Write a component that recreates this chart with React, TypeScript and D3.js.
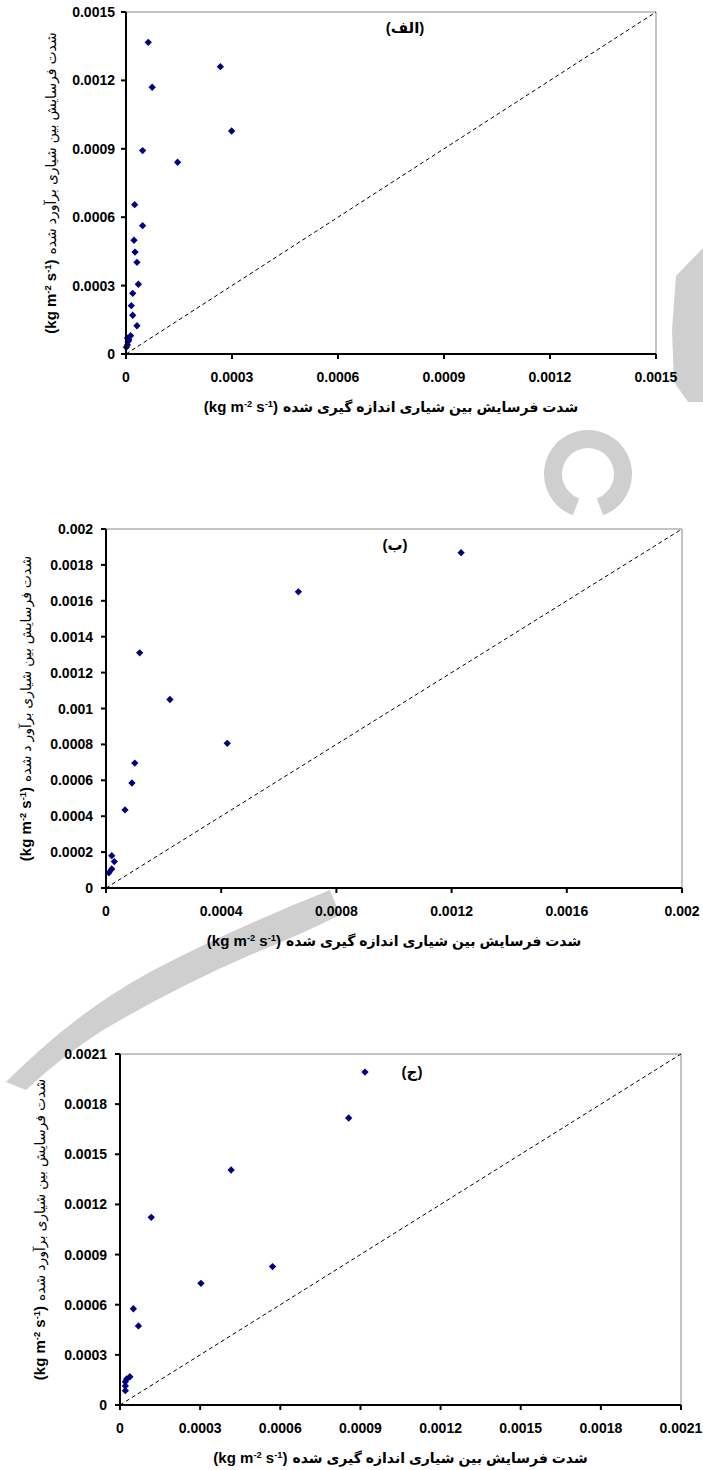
import React, { useLayoutEffect, useRef, useState } from "react";
import * as d3 from "d3";

// measured (x) vs estimated (y) interrill erosion rate, kg m-2 s-1
const measuredA = [0.000063, 0.000267, 0.000074, 0.000299, 0.000047, 0.000146, 0.0000245, 0.000047, 0.0000226, 0.0000255, 0.000031, 0.000035, 0.000019, 0.000015, 0.000019, 0.000031, 0.000013, 0.000004, 0.000008, 0.000006, 0.000004, 0.000001];
const estimatedA = [0.001367, 0.00126, 0.00117, 0.000978, 0.000892, 0.000841, 0.000655, 0.000563, 0.000499, 0.000447, 0.000402, 0.000306, 0.000266, 0.000212, 0.00017, 0.000124, 0.00008, 0.00007, 0.000062, 0.000055, 0.00004, 0.00003];

const measuredB = [0.001233, 0.000668, 0.000117, 0.000222, 0.000421, 0.0001, 0.00009, 0.000066, 0.00002, 0.000029, 0.00002, 0.00001];
const estimatedB = [0.001868, 0.00165, 0.00131, 0.00105, 0.000806, 0.000696, 0.000585, 0.000435, 0.00018, 0.000147, 0.000106, 0.000085];

const measuredC = [0.000917, 0.000856, 0.000416, 0.000117, 0.000571, 0.000303, 0.00005, 0.000069, 0.000037, 0.000025, 0.00002, 0.00002, 0.00002];
const estimatedC = [0.001992, 0.001717, 0.001406, 0.001123, 0.000828, 0.000728, 0.000576, 0.000473, 0.000169, 0.000156, 0.000139, 0.000114, 0.000086];

const ticksA = ["0", "0.0003", "0.0006", "0.0009", "0.0012", "0.0015"];
const xTicksB = ["0", "0.0004", "0.0008", "0.0012", "0.0016", "0.002"];
const yTicksB = ["0", "0.0002", "0.0004", "0.0006", "0.0008", "0.001", "0.0012", "0.0014", "0.0016", "0.0018", "0.002"];
const ticksC = ["0", "0.0003", "0.0006", "0.0009", "0.0012", "0.0015", "0.0018", "0.0021"];

const panelLabels = ["(الف)", "(ب)", "(ج)"];
const xTitle = "شدت فرسایش بین شیاری اندازه گیری شده";
const yTitles = ["شدت فرسایش بین شیاری برآورد شده", "شدت فرسایش بین شیاری برآور د شده", "شدت فرسایش بین شیاری برآورد شده"];

const FONT = "'Liberation Sans', Arial, 'DejaVu Sans', sans-serif";
const NAVY = "#000080";

type Box = { left: number; right: number; top: number; bottom: number };

type PanelProps = {
  xs: number[];
  ys: number[];
  xTicks: string[];
  yTicks: string[];
  box: Box;
  yLabelX: number;
  yTitleX: number;
  label: string;
  labelPos: [number, number];
  yTitle: string;
};

// "(kg m-2 s-1)" on the left, the Persian words on the right, measured so the pair is centred
function AxisTitle({ x, y, angle, persian, persianBold, size }: {
  x: number; y: number; angle: number; persian: string; persianBold: boolean; size: number;
}) {
  const uRef = useRef<SVGTextElement>(null);
  const pRef = useRef<SVGTextElement>(null);
  const [w, setW] = useState<[number, number]>([90, 260]);
  useLayoutEffect(() => {
    if (uRef.current && pRef.current) {
      setW([uRef.current.getComputedTextLength(), pRef.current.getComputedTextLength()]);
    }
  }, [persian, size]);
  const gap = 5;
  const start = -(w[0] + gap + w[1]) / 2;
  const sup = size * 0.62;
  const up = size * 0.38;
  return (
    <g transform={`translate(${x},${y}) rotate(${angle})`}>
      <text ref={uRef} x={start} dy="0.36em" fontSize={size} fontWeight="bold" textAnchor="start">
        <tspan>(kg m</tspan>
        <tspan fontSize={sup} dy={-up}>-2</tspan>
        <tspan dy={up}> s</tspan>
        <tspan fontSize={sup} dy={-up}>-1</tspan>
        <tspan dy={up}>)</tspan>
      </text>
      <text
        ref={pRef}
        x={start + w[0] + gap}
        dy="0.36em"
        fontSize={size - 1}
        fontWeight={persianBold ? "bold" : "normal"}
        textAnchor="start"
      >
        {persian}
      </text>
    </g>
  );
}

function Panel({ xs, ys, xTicks, yTicks, box, yLabelX, yTitleX, label, labelPos, yTitle }: PanelProps) {
  const xMax = +xTicks[xTicks.length - 1];
  const yMax = +yTicks[yTicks.length - 1];
  const x = d3.scaleLinear().domain([0, xMax]).range([box.left, box.right]);
  const y = d3.scaleLinear().domain([0, yMax]).range([box.bottom, box.top]);
  const diamond = d3.symbol().type(d3.symbolDiamond2).size(34)();
  const cx = (box.left + box.right) / 2;
  const cy = (box.top + box.bottom) / 2;

  return (
    <g fontFamily={FONT}>
      {/* top/right frame */}
      <path
        d={`M${box.left},${box.top}H${box.right}V${box.bottom}`}
        fill="none"
        stroke="#888"
        strokeWidth={1}
      />
      {/* 1:1 line */}
      <line
        x1={x(0)}
        y1={y(0)}
        x2={x(xMax)}
        y2={y(yMax)}
        stroke="#000"
        strokeWidth={1}
        strokeDasharray="4,3"
      />
      {xs.map((d, i) => (
        <path key={i} d={diamond!} transform={`translate(${x(d)},${y(ys[i])})`} fill={NAVY} />
      ))}
      {/* axes */}
      <line x1={box.left} x2={box.right} y1={box.bottom} y2={box.bottom} stroke="#000" strokeWidth={2} />
      <line x1={box.left} x2={box.left} y1={box.top} y2={box.bottom + 1} stroke="#000" strokeWidth={2} />
      {xTicks.map((t) => (
        <g key={"x" + t}>
          <line x1={x(+t)} x2={x(+t)} y1={box.bottom} y2={box.bottom + 5} stroke="#000" strokeWidth={2} />
          <text x={x(+t)} y={box.bottom + 28} textAnchor="middle" fontSize={14} fontWeight="bold">
            {t}
          </text>
        </g>
      ))}
      {yTicks.map((t) => (
        <g key={"y" + t}>
          <line x1={box.left - 5} x2={box.left} y1={y(+t)} y2={y(+t)} stroke="#000" strokeWidth={2} />
          <text x={yLabelX} y={y(+t)} dy="0.36em" textAnchor="end" fontSize={14} fontWeight="bold">
            {t}
          </text>
        </g>
      ))}
      <text x={labelPos[0]} y={labelPos[1]} dy="0.36em" textAnchor="middle" fontSize={15} fontWeight="bold">
        {label}
      </text>
      <AxisTitle x={cx} y={box.bottom + 53} angle={0} persian={xTitle} persianBold size={15} />
      <AxisTitle x={yTitleX} y={cy} angle={-90} persian={yTitle} persianBold={false} size={15} />
    </g>
  );
}

// faint grey watermark shapes lying behind the charts
function Watermark() {
  const ring = d3.arc()({
    innerRadius: 26,
    outerRadius: 44,
    startAngle: (200 * Math.PI) / 180,
    endAngle: (520 * Math.PI) / 180,
  });
  return (
    <g fill="#cfcfcf" stroke="none">
      <path d="M703,248 L676,276 L672,330 L674,382 L688,402 L703,402 Z" />
      <path d={ring!} transform="translate(588,474)" />
      <path d="M330,890 Q230,930 150,972 Q90,1005 40,1050 Q20,1068 6,1082 L26,1090 Q60,1058 100,1032 Q170,990 250,955 Q300,935 340,915 Z" />
    </g>
  );
}

export default function App() {
  return (
    <svg
      width={703}
      height={1470}
      style={{ position: "absolute", left: 0, top: 0, background: "#fff" }}
    >
      <rect width={703} height={1470} fill="#fff" />
      <Watermark />
      <Panel
        xs={measuredA}
        ys={estimatedA}
        xTicks={ticksA}
        yTicks={ticksA}
        box={{ left: 126, right: 656, top: 12, bottom: 354 }}
        yLabelX={115}
        yTitleX={51}
        label={panelLabels[0]}
        labelPos={[405, 28]}
        yTitle={yTitles[0]}
      />
      <Panel
        xs={measuredB}
        ys={estimatedB}
        xTicks={xTicksB}
        yTicks={yTicksB}
        box={{ left: 106, right: 682, top: 529, bottom: 888 }}
        yLabelX={93}
        yTitleX={26}
        label={panelLabels[1]}
        labelPos={[395, 545]}
        yTitle={yTitles[1]}
      />
      <Panel
        xs={measuredC}
        ys={estimatedC}
        xTicks={ticksC}
        yTicks={ticksC}
        box={{ left: 120, right: 681, top: 1054, bottom: 1405 }}
        yLabelX={107}
        yTitleX={40}
        label={panelLabels[2]}
        labelPos={[412, 1072]}
        yTitle={yTitles[2]}
      />
    </svg>
  );
}
